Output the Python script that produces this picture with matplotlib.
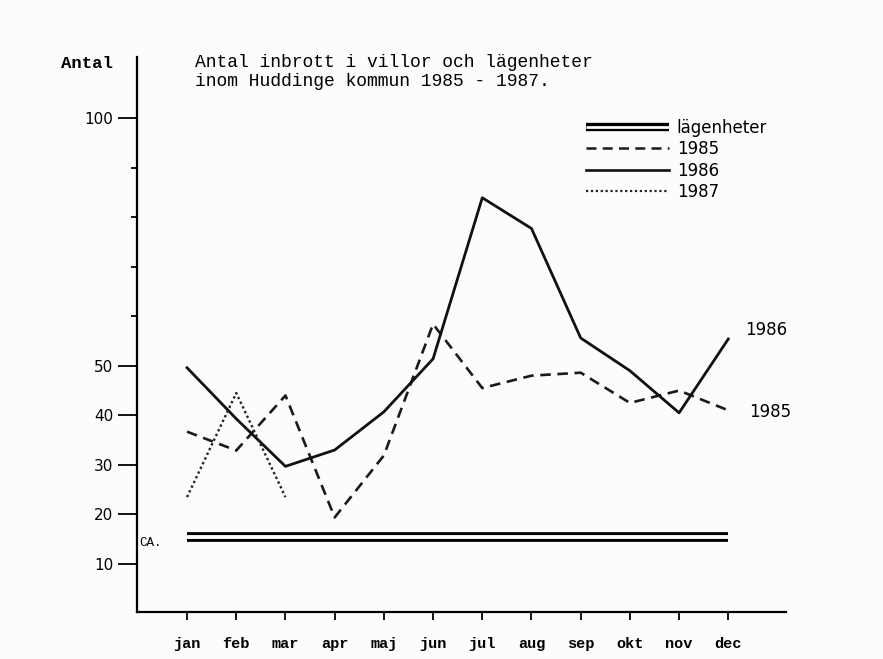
import matplotlib.pyplot as plt
import matplotlib.patheffects as pe
from matplotlib.lines import Line2D

# data
months = ["jan", "feb", "mar", "apr", "maj", "jun", "jul", "aug", "sep", "okt", "nov", "dec"]
y1985 = [36.7, 32.9, 44.0, 19.4, 31.9, 58.4, 45.5, 48.0, 48.6, 42.5, 45.0, 41.0]
y1986 = [49.6, 39.3, 29.7, 33.0, 40.7, 51.4, 83.9, 77.7, 55.6, 49.0, 40.5, 55.4]
y1987 = [23.5, 44.5, 23.5]
lagenheter = [15.4] * 12

labeled_ticks = [10, 20, 30, 40, 50, 100]
unlabeled_ticks = [60, 70, 80, 90]

MONO = "Liberation Mono"
BG = "#fcfcfc"

fig = plt.figure(figsize=(8.83, 6.59), dpi=100)
fig.patch.set_facecolor(BG)
ax = fig.add_axes([0.155, 0.0713, 0.735, 0.8422])
ax.set_facecolor(BG)

x = list(range(len(months)))

# double line for lägenheter
double = [pe.Stroke(linewidth=7.0, foreground="black"),
          pe.Stroke(linewidth=2.8, foreground=BG)]
ax.plot(x, lagenheter, color="black", lw=7.0, path_effects=double, solid_capstyle="butt")

ax.plot(x, y1985, color="#1a1a1a", lw=1.9, linestyle=(0, (4, 2.5)))
ax.plot(x, y1986, color="#111111", lw=2.0)
ax.plot(x[:len(y1987)], y1987, color="#222222", lw=1.7, linestyle=(0, (1, 1.2)))

ax.text(11.35, 57.2, "1986", fontsize=12, family="DejaVu Sans", va="center", ha="left")
ax.text(11.42, 40.7, "1985", fontsize=12, family="DejaVu Sans", va="center", ha="left")
ax.text(-0.97, 14.2, "CA.", fontsize=9, family=MONO, va="center", ha="left")

ax.set_xlim(-1.02, 12.17)
ax.set_ylim(0.31, 112.3)

for s in ["top", "right"]:
    ax.spines[s].set_visible(False)
for s in ["left", "bottom"]:
    ax.spines[s].set_linewidth(1.6)

ax.set_xticks(x)
ax.set_xticklabels(months, family=MONO, fontweight="bold", fontsize=11)
ax.tick_params(axis="x", direction="out", length=6, width=1.3, pad=12)

ax.set_yticks(labeled_ticks)
ax.set_yticklabels([str(v) for v in labeled_ticks], family="DejaVu Sans", fontsize=11)
ax.set_yticks(unlabeled_ticks, minor=True)
ax.tick_params(axis="y", which="major", direction="out", length=14, width=1.3, pad=3)
ax.tick_params(axis="y", which="minor", direction="out", length=4, width=1.3)

fig.text(61 / 883, 1 - 63 / 659, "Antal", family=MONO, fontweight="bold", fontsize=12.5, va="center")
fig.text(195 / 883, 1 - 72 / 659,
         "Antal inbrott i villor och lägenheter\ninom Huddinge kommun 1985 - 1987.",
         family=MONO, fontsize=13, va="center", linespacing=1.2)

handles = [
    Line2D([], [], color="black", lw=6.0, solid_capstyle="butt",
           path_effects=[pe.Stroke(linewidth=6.0, foreground="black"),
                         pe.Stroke(linewidth=2.0, foreground=BG)]),
    Line2D([], [], color="#1a1a1a", lw=1.8, linestyle=(0, (4, 2.5))),
    Line2D([], [], color="#111111", lw=1.9),
    Line2D([], [], color="#222222", lw=1.6, linestyle=(0, (1, 1.2))),
]
leg = fig.legend(handles, ["lägenheter", "1985", "1986", "1987"],
                 loc="upper left", bbox_to_anchor=(586 / 883, 1 - 119 / 659),
                 frameon=False, prop={"family": "DejaVu Sans", "size": 12},
                 handlelength=5.0, handletextpad=0.45, labelspacing=0.2,
                 borderaxespad=0, borderpad=0)

fig.savefig("out.png", dpi=100, facecolor=fig.get_facecolor())
